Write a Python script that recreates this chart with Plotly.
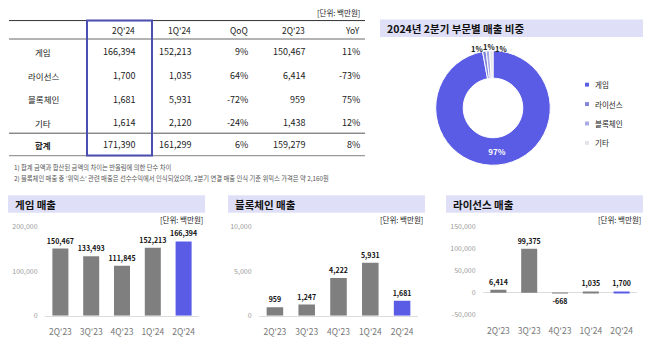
import plotly.graph_objects as go

# ---------------- data ----------------
table_header = ["2Q'24", "1Q'24", "QoQ", "2Q'23", "YoY"]
table_rows = ["게임", "라이선스", "블록체인", "기타", "합계"]
col_q2_24 = [166394, 1700, 1681, 1614, 171390]
col_q1_24 = [152213, 1035, 5931, 2120, 161299]
col_qoq = ["9%", "64%", "-72%", "-24%", "6%"]
col_q2_23 = [150467, 6414, 959, 1438, 159279]
col_yoy = ["11%", "-73%", "75%", "12%", "8%"]

footnotes = [
    "1) 합계 금액과 합산된 금액의 차이는 반올림에 의한 단수 차이",
    "2) 블록체인 매출 중 '위믹스' 관련 매출은 선수수익에서 인식되었으며, 2분기 연결 매출 인식 기준 위믹스 가격은 약 2,160원",
]
unit_label = "[단위: 백만원]"

pie_title = "2024년 2분기 부문별 매출 비중"
pie_labels = ["게임", "라이선스", "블록체인", "기타"]
pie_values = [166394, 1700, 1681, 1614]

quarters = ["2Q'23", "3Q'23", "4Q'23", "1Q'24", "2Q'24"]
game_title = "게임 매출"
game_sales = [150467, 133493, 111845, 152213, 166394]
game_ticks = [0, 100000, 200000]
chain_title = "블록체인 매출"
chain_sales = [959, 1247, 4222, 5931, 1681]
chain_ticks = [0, 5000, 10000]
lic_title = "라이선스 매출"
lic_sales = [6414, 99375, -668, 1035, 1700]
lic_ticks = [-50000, 0, 50000, 100000, 150000]

# ---------------- layout helpers ----------------
W, H = 658, 345
FONT = "Noto Sans CJK KR"
def px(x): return x / W
def py(y): return 1 - y / H

GRAY = "#7f7f7f"
BLUE = "#5b5ce6"
BOX = "#dfe0f7"
pie_colors = ["#5b5ce6", "#8284dc", "#a9abe8", "#e4e4ea"]

fig = go.Figure()
shapes = []
ann = []

def text(x, y, s, size=9, color="#222", anchor="center", bold=False):
    if bold:
        s = "<b>" + s + "</b>"
    ann.append(dict(x=px(x), y=py(y), xref="paper", yref="paper", text=s,
                    showarrow=False, xanchor=anchor, yanchor="middle",
                    font=dict(size=size, color=color, family=FONT)))

def hline(y, x0, x1, color, w):
    shapes.append(dict(type="line", xref="paper", yref="paper", x0=px(x0), x1=px(x1),
                       y0=py(y), y1=py(y), line=dict(color=color, width=w)))

def rect(x0, y0, x1, y1, fill=None, line=None, lw=0):
    shapes.append(dict(type="rect", xref="paper", yref="paper", x0=px(x0), x1=px(x1),
                       y0=py(y1), y1=py(y0), fillcolor=fill or "rgba(0,0,0,0)",
                       line=dict(color=line or "rgba(0,0,0,0)", width=lw), layer="below"))

# ---------------- table ----------------
text(362, 7, unit_label, size=7.5, anchor="right")
hline(15, 9, 365, "#333", 1)
hline(34, 9, 365, "#9a9a9a", 1.5)
hline(131, 9, 365, "#555", 1)
hline(154, 9, 365, "#9a9a9a", 1.2)
col_right = [137, 193, 250, 307, 362]
for cx, h in zip(col_right, table_header):
    text(cx, 25, h, size=8.5, anchor="right")
row_y = [47, 72, 96, 120, 143]
cols = [[f"{v:,}" for v in col_q2_24], [f"{v:,}" for v in col_q1_24], col_qoq,
        [f"{v:,}" for v in col_q2_23], col_yoy]
for i, (ry, lab) in enumerate(zip(row_y, table_rows)):
    text(43, ry, lab, size=8.5, bold=(i == len(table_rows) - 1))
    for cx, col in zip(col_right, cols):
        text(cx, ry, col[i], size=9, anchor="right")
shapes.append(dict(type="rect", xref="paper", yref="paper", x0=px(87), x1=px(152),
                   y0=py(154), y1=py(15), line=dict(color="#4b4fb2", width=2)))
text(12, 166, footnotes[0], size=6.3, color="#555", anchor="left")
text(12, 178, footnotes[1], size=6.3, color="#555", anchor="left")

# ---------------- donut ----------------
rect(380, 14, 643, 32, fill=BOX)
text(385, 23, pie_title, size=10.5, color="#111", anchor="left", bold=True)
fig.add_trace(go.Pie(
    labels=pie_labels, values=pie_values, hole=0.52, sort=False, direction="clockwise",
    marker=dict(colors=pie_colors, line=dict(color="white", width=1)),
    texttemplate=["<b>%{percent:.0%}</b>", "", "", ""],
    textposition="inside",
    insidetextorientation="horizontal",
    insidetextfont=dict(color="white", size=8, family=FONT),
    domain=dict(x=[px(434), px(552)], y=[py(164), py(46)]),
    showlegend=False, hoverinfo="label+percent"))
# small-slice percentage labels (text computed from data), placed above the slices
total = sum(pie_values)
small_pos = [(477, 44), (489, 42), (501, 44)]
for (sx, sy), v in zip(small_pos, pie_values[1:]):
    text(sx, sy, f"{round(v / total * 100)}%", size=7.5, color="#222", bold=True)

leg_y = [81, 101, 121, 141]
for yy, lab, c in zip(leg_y, pie_labels, pie_colors):
    rect(585, yy - 2, 589, yy + 2, fill=c)
    text(593, yy, lab, size=7.5, color="#222", anchor="left")

# ---------------- bar charts ----------------
panels = [
    (game_title, game_sales, game_ticks, [0, 200000], (8, 205), (45, 199)),
    (chain_title, chain_sales, chain_ticks, [0, 10000], (228, 425), (259, 418)),
    (lic_title, lic_sales, lic_ticks, [-50000, 150000], (446, 643), (483, 637)),
]
layout_axes = {}
for k, (title, vals, ticks, rng, box, dom) in enumerate(panels, start=1):
    rect(box[0], 195, box[1], 213, fill=BOX)
    text(box[0] + 5, 204, title, size=10.5, color="#111", anchor="left", bold=True)
    text(box[1], 220, unit_label, size=7.5, anchor="right")
    colors = [GRAY] * (len(vals) - 1) + [BLUE]
    xa = "x" if k == 1 else f"x{k}"
    ya = "y" if k == 1 else f"y{k}"
    fig.add_trace(go.Bar(
        x=quarters, y=vals, xaxis=xa, yaxis=ya, marker=dict(color=colors, line=dict(width=0)),
        text=[f"<b>{v:,}</b>" for v in vals], textposition="outside", constraintext="none",
        cliponaxis=False, textfont=dict(size=7, color="#111", family=FONT),
        showlegend=False, width=0.52))
    xkey = "xaxis" if k == 1 else f"xaxis{k}"
    ykey = "yaxis" if k == 1 else f"yaxis{k}"
    neg = rng[0] < 0
    layout_axes[xkey] = dict(domain=[px(dom[0]), px(dom[1])], anchor=ya, type="category",
                             showgrid=False, zeroline=False,
                             showline=not neg, linecolor="#dcdcdc", linewidth=1,
                             ticks="outside", ticklen=8, tickcolor="rgba(0,0,0,0)",
                             tickfont=dict(size=8.5, color="#777", family=FONT))
    layout_axes[ykey] = dict(domain=[py(319 if not neg else 318), py(227)], anchor=xa,
                             range=rng, showgrid=False,
                             zeroline=neg, zerolinecolor="#dcdcdc", zerolinewidth=1,
                             tickvals=ticks, ticktext=[f"{t:,}" for t in ticks],
                             ticks="outside", ticklen=5, tickcolor="rgba(0,0,0,0)",
                             tickfont=dict(size=7, color="#999", family=FONT))

fig.update_layout(width=W, height=H, margin=dict(l=0, r=0, t=0, b=0),
                  paper_bgcolor="white", plot_bgcolor="white",
                  font=dict(family=FONT), shapes=shapes, annotations=ann,
                  bargap=0.48, **layout_axes)
fig.write_html("out.html")
